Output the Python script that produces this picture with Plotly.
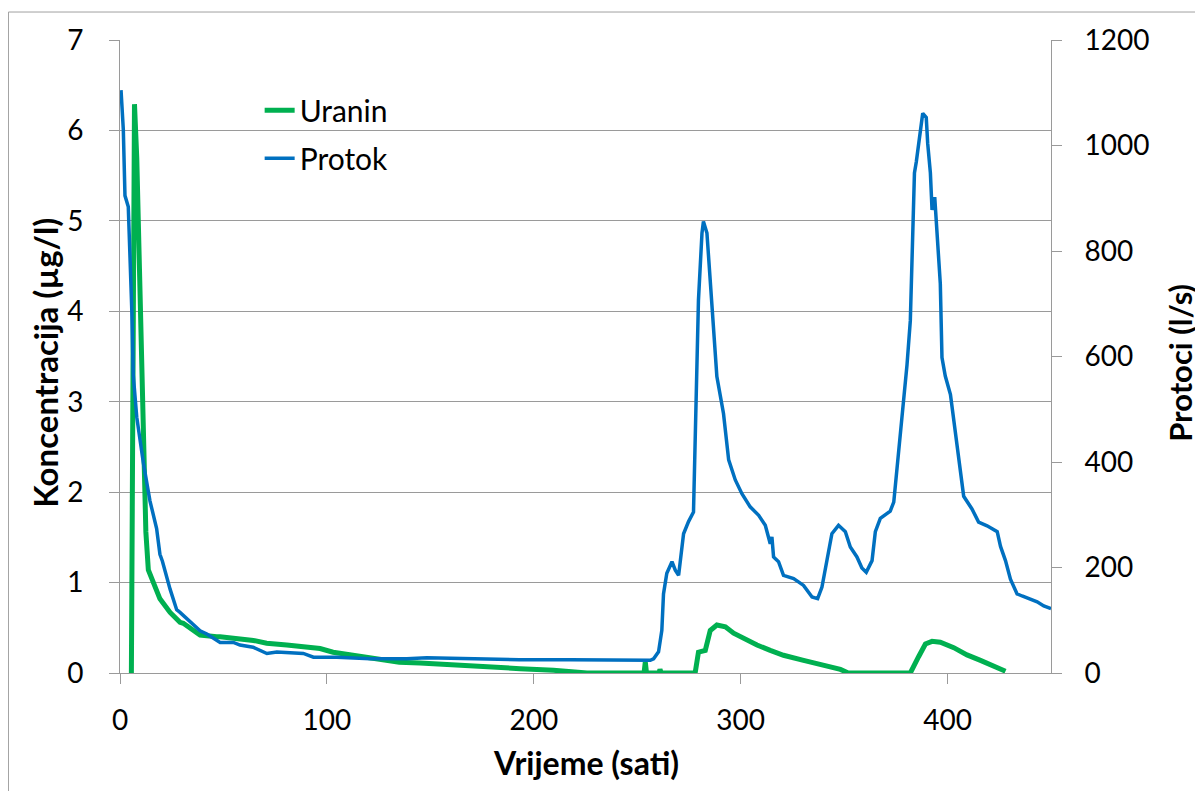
import plotly.graph_objects as go

# Uranin concentration (µg/l) vs time (hours)
t_uranin = [5.5, 7.0, 8.1, 9.7, 10.5, 11.3, 12.1, 12.5, 13.7, 16.1, 19.3, 24.2, 29, 30.6, 37, 38.7,
            46.7, 48.4, 64.5, 70.9, 80.6, 87, 96.7, 103, 112.8, 119, 129, 135, 145, 161.2, 177.3,
            193.4, 209.5, 225.7, 253.3, 253.9, 254.5, 260.5, 261, 261.6, 278, 279.6, 282.9, 285.3,
            288.5, 292.6, 296.6, 301.4, 307.9, 314.3, 320.7, 330.4, 340.1, 348.2, 352, 382, 386,
            389.3, 392.5, 396.5, 403, 409.4, 415.9, 422.3, 428]
uranin = [0, 6.29, 5.7, 4.0, 3.17, 2.32, 1.9, 1.56, 1.14, 1.01, 0.82, 0.67, 0.56, 0.55, 0.46, 0.42,
          0.40, 0.40, 0.36, 0.33, 0.31, 0.29, 0.27, 0.23, 0.20, 0.18, 0.14, 0.12, 0.11, 0.085, 0.066,
          0.048, 0.03, 0.0, 0.0, 0.12, 0.0, 0.0, 0.04, 0.0, 0.0, 0.23, 0.25, 0.47,
          0.53, 0.51, 0.44, 0.38, 0.31, 0.25, 0.196, 0.14, 0.085, 0.04, 0.0, 0.0, 0.18,
          0.32, 0.35, 0.34, 0.28, 0.20, 0.14, 0.074, 0.02]

# Protok discharge (l/s) vs time (hours)
t_protok = [0.5, 1.6, 2.4, 4.0, 5.7, 6.4, 8.1, 11.3, 14.5, 17.7, 19.3, 20.5, 24.2, 27.4, 29, 33,
            38.7, 42, 48.4, 54.8, 58, 64.3, 66, 71, 75.8, 88.6, 93.5, 104.8, 121, 138.6, 148.3,
            169, 193, 217.6, 238.5, 249.8, 256.3, 257.9, 260.3, 261.9, 262.7, 264.3, 266.8, 268.4,
            270, 272.4, 274.8, 277.2, 278, 279.6, 281.3, 282, 283.7, 286.1, 288.5, 291.7, 294.2,
            297.4, 300.6, 304.6, 308.7, 311.9, 314.3, 315.1, 315.9, 318.3, 320.7, 325.6, 330.4,
            334.5, 337.2, 339.3, 341.7, 344.1, 347.3, 350.6, 353, 356.2, 358.6, 360.7, 363.5,
            365.1, 367.5, 372.3, 374, 375.6, 377.2, 378.8, 380.4, 382, 382.8, 384, 384.9, 386.4,
            388, 389.7, 390.4, 391.7, 392.5, 393.8, 395, 396.5, 397.3, 398.9, 401.4, 403.8, 406.2,
            407.8, 411.8, 415, 419.1, 424, 425.6, 428, 430.4, 433.6, 436, 440, 443.3, 446.5, 450]
protok = [1105, 1030, 905, 884, 688, 565, 485, 398, 326, 274, 225, 212, 159, 120, 115, 100,
          80, 74, 58, 58, 53, 49, 46, 37, 40, 37, 30, 30, 27, 27, 29,
          27, 25, 25, 24, 24, 24, 27, 40, 81, 150, 189, 211, 195,
          185, 264, 287, 305, 454, 707, 834, 856, 834, 707, 562, 492, 404,
          366, 340, 315, 299, 280, 245, 258, 220, 211, 185, 179, 166,
          144, 141, 163, 214, 264, 280, 268, 239, 220, 199, 191, 213,
          268, 293, 307, 324, 387, 457, 528, 584, 668, 808, 948, 969, 1018,
          1061, 1053, 1004, 948, 878, 902, 836, 738, 598, 563, 528, 457, 387,
          335, 311, 286, 279, 268, 240, 213, 178, 150, 146, 139, 135, 127, 122]

FONT = "Lato"
GRID = "#9a9a9a"

fig = go.Figure()
fig.add_trace(go.Scatter(x=t_uranin, y=uranin, name="Uranin", mode="lines",
                         line=dict(color="#00B050", width=5), legendgroup="u"))
fig.add_trace(go.Scatter(x=t_protok, y=protok, name="Protok", mode="lines", yaxis="y2",
                         line=dict(color="#0070C0", width=3.5), legendgroup="p"))

axis_common = dict(showline=True, linecolor=GRID, linewidth=1, ticks="outside", tickcolor=GRID,
                   ticklen=10, tickfont=dict(family=FONT, size=28, color="black"), zeroline=False,
                   automargin=False)

# the page puts the figure 8px in from the top-left corner, so the canvas is 8px smaller
fig.update_layout(
    width=1195, height=783,
    margin=dict(l=112, r=152, t=32, b=118, autoexpand=False),
    plot_bgcolor="white", paper_bgcolor="white",
    font=dict(family=FONT, color="black"),
    xaxis=dict(range=[0, 450], tickvals=[0, 100, 200, 300, 400], showgrid=False,
               ticklabelstandoff=12, **axis_common),
    yaxis=dict(range=[0, 7], dtick=1, showgrid=True, gridcolor=GRID, gridwidth=1,
               ticklabelstandoff=20, **axis_common),
    yaxis2=dict(range=[0, 1200], dtick=200, overlaying="y", side="right", showgrid=False,
                ticklabelstandoff=17, **axis_common),
    legend=dict(x=0.15, y=0.93, xanchor="left", yanchor="top", bgcolor="rgba(0,0,0,0)",
                font=dict(family=FONT, size=30), tracegroupgap=6),
    annotations=[
        dict(text="<b>Koncentracija (µg/l)</b>", xref="paper", yref="paper", x=-0.0806, y=0.49,
             xanchor="center", yanchor="middle", textangle=-90, showarrow=False,
             font=dict(family=FONT, size=33)),
        dict(text="<b>Protoci (l/s)</b>", xref="paper", yref="paper", x=1.1386, y=0.49,
             xanchor="center", yanchor="middle", textangle=-90, showarrow=False,
             font=dict(family=FONT, size=31)),
        dict(text="<b>Vrijeme (sati)</b>", xref="paper", yref="paper", x=0.5, y=-0.1412,
             xanchor="center", yanchor="middle", showarrow=False, font=dict(family=FONT, size=32)),
    ],
    shapes=[
        dict(type="rect", xref="paper", yref="paper", x0=-0.1198, y0=-0.3, x1=1.3, y1=1.0442,
             line=dict(color="#a0a0a0", width=1), layer="below"),
    ],
)

fig.write_html("out.html")
